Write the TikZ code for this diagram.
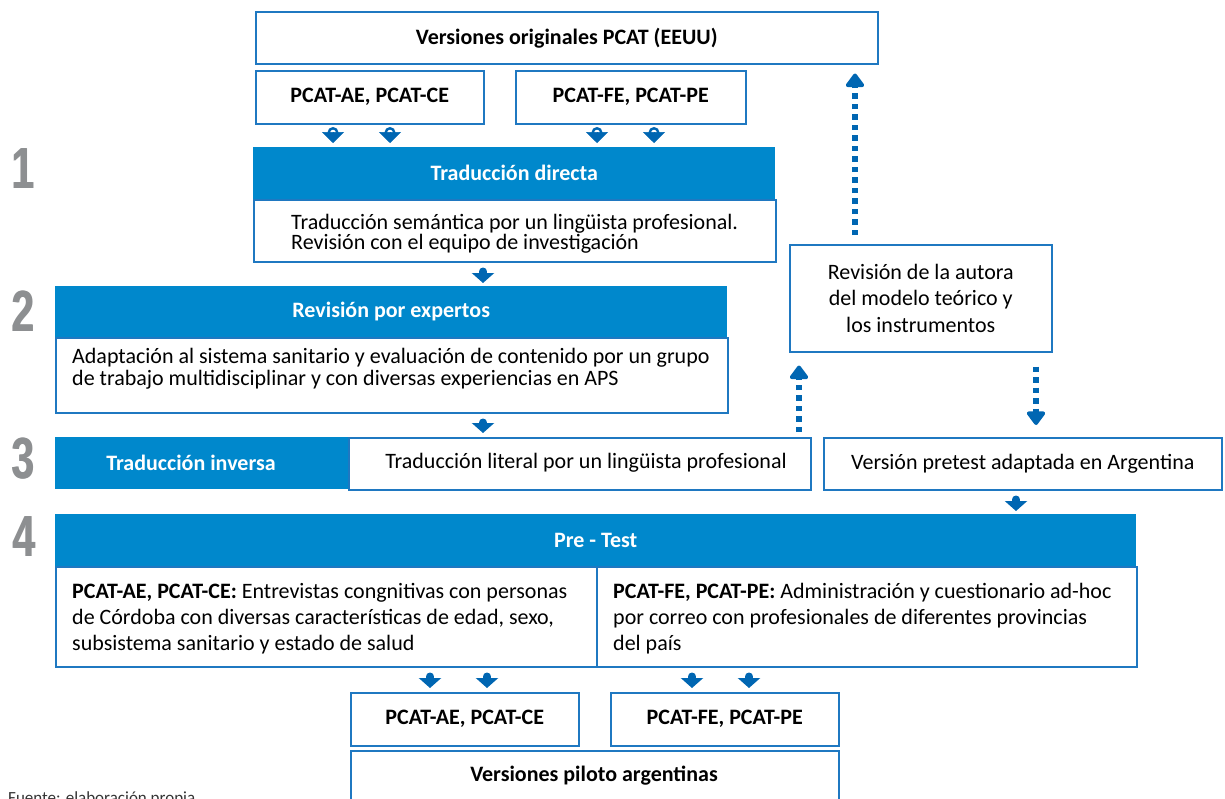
\documentclass[tikz,border=0pt]{standalone}
\usepackage{fontspec}
\setmainfont{Carlito}
\newfontfamily\numfont{Liberation Sans}
\usetikzlibrary{arrows.meta}
\definecolor{hdrblue}{HTML}{0088CC}
\definecolor{bordblue}{HTML}{1F78C1}
\definecolor{arrblue}{HTML}{0066B2}
\definecolor{numgray}{HTML}{8D8F91}
\newcommand\fsz{\fontsize{22}{26}\selectfont}
\newcommand\bignum[1]{\scalebox{0.7}[1]{\rlap{#1}\kern1.6pt#1}}
\begin{document}
\begin{tikzpicture}[x=1pt,y=-1pt,
  box/.style={draw=bordblue,line width=1.5pt,fill=white,inner sep=0pt,anchor=north west,font=\fsz},
  hdr/.style={fill=hdrblue,draw=none,inner sep=0pt,anchor=north west,text=white,font=\fsz\bfseries},
  btxt/.style={font=\fsz\bfseries},
  ptxt/.style={inner sep=0pt,align=left,anchor=west,font=\fsz},
  num/.style={text=numgray,inner sep=0pt,font=\numfont\bfseries\fontsize{58}{58}\selectfont},
  blockarrow/.style={draw=arrblue,line width=8pt,line cap=round,-{Triangle[width=22pt,length=10pt]}},
  knobarrow/.style={draw=arrblue,line width=0.5pt,-{Triangle[width=22pt,length=11pt]}},
  knob/.style={circle,draw=arrblue,line width=2.4pt,fill=white,minimum size=8.5pt,inner sep=0pt},
  dotarrow/.style={draw=arrblue,line width=5.5pt,dash pattern=on 5.5pt off 5pt,-{Triangle[width=21pt,length=15pt,round]}}
]
\useasboundingbox (0,0) rectangle (1225,798);

% step numbers
\node[num] (n1) at (23,169) {\bignum{1}};
\node[num] (n2) at (23,311) {\bignum{2}};
\node[num] (n3) at (23,459) {\bignum{3}};
\node[num] (n4) at (24,537) {\bignum{4}};

% top
\node[box,minimum width=622pt,minimum height=52pt] (top) at (255,11) {\bfseries Versiones originales PCAT (EEUU)};
\node[box,minimum width=228pt,minimum height=53pt] (pae1) at (255,70) {\bfseries PCAT-AE, PCAT-CE};
\node[box,minimum width=230pt,minimum height=53pt] (pfe1) at (515,70) {\bfseries PCAT-FE, PCAT-PE};

% step 1
\node[hdr,minimum width=522pt,minimum height=52pt] (td) at (253,147) {Traducción directa};
\node[box,minimum width=522pt,minimum height=62pt] (tdb) at (253,199) {};
\node[ptxt,font=\fontsize{22}{19}\selectfont] (tdt) at (291,233.5) {Traducción semántica por un lingüista profesional.\\Revisión con el equipo de investigación};

% step 2
\node[hdr,minimum width=672pt,minimum height=51pt] (rp) at (55,286) {Revisión por expertos};
\node[box,minimum width=672pt,minimum height=75pt] (rpb) at (55,337) {};
\node[ptxt,font=\fontsize{22}{22}\selectfont] (rpt) at (72,369) {Adaptación al sistema sanitario y evaluación de contenido por un grupo\\de trabajo multidisciplinar y con diversas experiencias en APS};

% step 3
\node[hdr,minimum width=293pt,minimum height=52pt] (ti) at (55,437) {};
\node[btxt,text=white,inner sep=0pt] (tit) at (191,463) {Traducción inversa};
\node[box,minimum width=462pt,minimum height=52pt] (tib) at (348,437) {};
\node[font=\fsz,inner sep=0pt] (tibt) at (586,463) {Traducción literal por un lingüista profesional};
\node[box,minimum width=398pt,minimum height=52pt] (vp) at (823,437) {Versión pretest adaptada en Argentina};

% revision autora
\node[box,minimum width=262pt,minimum height=107pt,align=center,font=\fontsize{22}{26.5}\selectfont] (rev) at (789,244) {Revisión de la autora\\del modelo teórico y\\los instrumentos};

% step 4
\node[hdr,minimum width=1081pt,minimum height=52pt] (pt) at (55,514) {Pre - Test};
\node[box,minimum width=541pt,minimum height=100pt] (ptl) at (55,566) {};
\node[box,minimum width=540pt,minimum height=100pt] (ptr) at (596,566) {};
\node[ptxt,font=\fontsize{22}{26}\selectfont] (ptlt) at (72,619) {\textbf{PCAT-AE, PCAT-CE:} Entrevistas congnitivas con personas\\de Córdoba con diversas características de edad, sexo,\\subsistema sanitario y estado de salud};
\node[ptxt,font=\fontsize{22}{26}\selectfont] (ptrt) at (613,619) {\textbf{PCAT-FE, PCAT-PE:} Administración y cuestionario ad-hoc\\por correo con profesionales de diferentes provincias\\del país};

% bottom
\node[box,minimum width=228pt,minimum height=53pt] (pae2) at (350,692) {\bfseries PCAT-AE, PCAT-CE};
\node[box,minimum width=228pt,minimum height=53pt] (pfe2) at (610,692) {\bfseries PCAT-FE, PCAT-PE};
\node[box,minimum width=488pt,minimum height=70pt] (vpa) at (350,750) {};
\node[btxt,inner sep=0pt] (vpat) at (594,776) {Versiones piloto argentinas};

\node[inner sep=0pt,anchor=base west,font=\fontsize{17}{20}\selectfont,text=black!80] (fuente) at (8,803) {Fuente: elaboración propia};

% x positions
\coordinate (x333) at (333,0);
\coordinate (x390) at (390,0);
\coordinate (x597) at (597,0);
\coordinate (x654) at (654,0);
\coordinate (x483) at (483,0);
\coordinate (x1016) at (1016,0);
\coordinate (x430) at (430,0);
\coordinate (x487) at (487,0);
\coordinate (x692) at (692,0);
\coordinate (x749) at (749,0);
\coordinate (x855) at (855,0);
\coordinate (x799) at (799,0);
\coordinate (x1036) at (1036,0);

% knob arrows
\foreach \xx/\src in {x333/pae1,x390/pae1,x597/pfe1,x654/pfe1}{
  \node[knob] at ([yshift=-8pt]\src.south -| \xx) {};
  \draw[knobarrow,shorten <=9pt,shorten >=4pt] (\src.south -| \xx) -- (td.north -| \xx);
}

% block arrows
\draw[blockarrow,shorten <=9pt,shorten >=3pt] (tdb.south -| x483) -- (rp.north -| x483);
\draw[blockarrow,shorten <=9pt,shorten >=4pt] (rpb.south -| x483) -- (tib.north -| x483);
\draw[blockarrow,shorten <=9pt,shorten >=3pt] (vp.south -| x1016) -- (pt.north -| x1016);
\draw[blockarrow,shorten <=9pt,shorten >=4pt] (ptl.south -| x430) -- (pae2.north -| x430);
\draw[blockarrow,shorten <=9pt,shorten >=4pt] (ptl.south -| x487) -- (pae2.north -| x487);
\draw[blockarrow,shorten <=9pt,shorten >=4pt] (ptr.south -| x692) -- (pfe2.north -| x692);
\draw[blockarrow,shorten <=9pt,shorten >=4pt] (ptr.south -| x749) -- (pfe2.north -| x749);

% dotted arrows
\draw[dotarrow,shorten <=9pt,shorten >=9pt] (rev.north -| x855) -- (top.south -| x855);
\draw[dotarrow,shorten <=5pt,shorten >=13pt] (tib.north -| x799) -- (rev.south -| x799);
\draw[dotarrow,shorten <=14pt,shorten >=12pt] (rev.south -| x1036) -- (vp.north -| x1036);
\end{tikzpicture}
\end{document}
